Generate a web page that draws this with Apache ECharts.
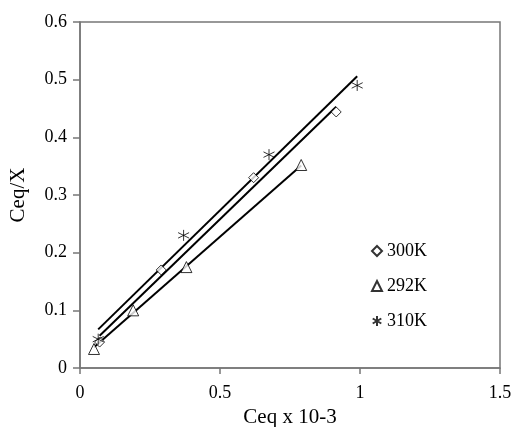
<!DOCTYPE html>
<html>
<head>
<meta charset="utf-8">
<script src="https://cdn.jsdelivr.net/npm/echarts@6/dist/echarts.min.js"></script>
<style>html,body{margin:0;padding:0;background:#fff}#c{width:512px;height:427px}</style>
</head>
<body>
<div id="c"></div>
<script>
var seriesNames = ['300K', '292K', '310K'];
var pts300 = [[0.07, 0.045], [0.29, 0.17], [0.62, 0.33], [0.915, 0.444]];
var pts292 = [[0.05, 0.033], [0.19, 0.10], [0.38, 0.175], [0.79, 0.352]];
var pts310 = [[0.065, 0.05], [0.37, 0.23], [0.675, 0.37], [0.99, 0.49]];
var trend300 = [[0.07, 0.056], [0.915, 0.453]];
var trend292 = [[0.05, 0.036], [0.79, 0.351]];
var trend310 = [[0.065, 0.067], [0.99, 0.506]];
var xTicks = [0, 0.5, 1, 1.5];
var yTicks = [0, 0.1, 0.2, 0.3, 0.4, 0.5, 0.6];

var FONT = 'Liberation Serif';
var AX = '#777';
var asterisk = 'path://M5,0L5,10M0.7,2.5L9.3,7.5M0.7,7.5L9.3,2.5';

function scatter(name, data, symbol, size) {
  return {
    name: name, type: 'scatter', data: data, symbol: symbol, symbolSize: size,
    itemStyle: { color: '#fff', borderColor: '#000', borderWidth: 1 },
    z: 3
  };
}
function trend(data) {
  return {
    type: 'line', data: data, symbol: 'none', silent: true,
    lineStyle: { color: '#000', width: 2 }, z: 2
  };
}
var chart = echarts.init(document.getElementById('c'), null, { renderer: 'canvas' });
chart.setOption({
  animation: false,
  backgroundColor: '#fff',
  grid: { left: 80, top: 22, right: 12, bottom: 59, containLabel: false, outerBoundsMode: 'none',
    show: true, borderColor: AX, borderWidth: 1.5, backgroundColor: 'transparent' },
  legend: {
    data: seriesNames, orient: 'vertical', left: 366, top: 237,
    itemWidth: 10, itemHeight: 10, itemGap: 17,
    textStyle: { fontFamily: FONT, fontSize: 18, color: '#000' }
  },
  xAxis: {
    type: 'value', min: xTicks[0], max: xTicks[xTicks.length - 1], interval: 0.5,
    name: 'Ceq x 10-3', nameLocation: 'middle', nameGap: 35,
    nameTextStyle: { fontFamily: FONT, fontSize: 21, color: '#000' },
    axisLine: { show: true, lineStyle: { color: AX, width: 1.5 } },
    axisTick: { show: true, length: 6, lineStyle: { color: AX, width: 1.5 } },
    axisLabel: { fontFamily: FONT, fontSize: 18, color: '#000', margin: 16 },
    splitLine: { show: false }
  },
  yAxis: {
    type: 'value', min: yTicks[0], max: yTicks[yTicks.length - 1], interval: 0.1,
    name: 'Ceq/X', nameLocation: 'middle', nameGap: 51,
    nameTextStyle: { fontFamily: FONT, fontSize: 21, color: '#000' },
    axisLine: { show: true, lineStyle: { color: AX, width: 1.5 } },
    axisTick: { show: true, length: 7, lineStyle: { color: AX, width: 1.5 } },
    axisLabel: { fontFamily: FONT, fontSize: 18, color: '#000', margin: 13,
      formatter: function (v) { return String(Math.round(v * 10) / 10); } },
    splitLine: { show: false }
  },
  series: [
    trend(trend300), trend(trend292), trend(trend310),
    scatter(seriesNames[0], pts300, 'diamond', 10),
    scatter(seriesNames[1], pts292, 'triangle', 11),
    scatter(seriesNames[2], pts310, asterisk, 11)
  ]
});
</script>
</body>
</html>
